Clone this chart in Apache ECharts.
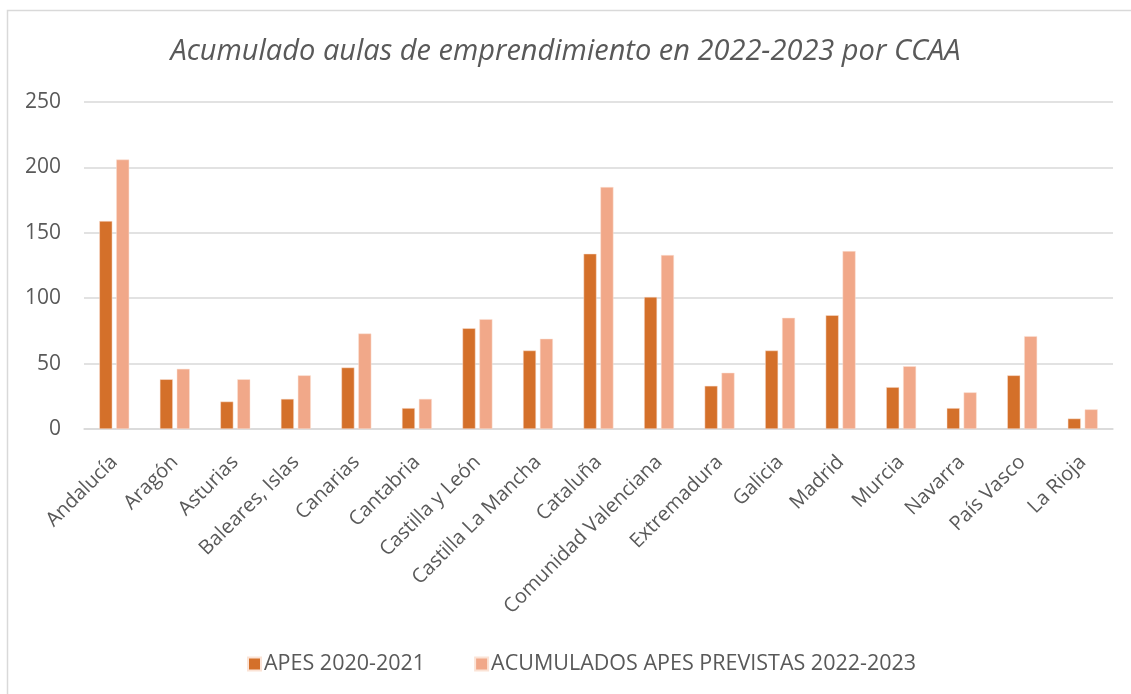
<!DOCTYPE html>
<html><head><meta charset="utf-8">
<script src="https://cdn.jsdelivr.net/npm/echarts@6/dist/echarts.min.js"></script>
<style>html,body{margin:0;padding:0;background:#fff}#c{width:1131px;height:694px}</style>
</head><body><div id="c"></div>
<script>
const categories = ['Andalucía','Aragón','Asturias','Baleares, Islas','Canarias','Cantabria','Castilla y León','Castilla La Mancha','Cataluña','Comunidad Valenciana','Extremadura','Galicia','Madrid','Murcia','Navarra','País Vasco','La Rioja'];
const apes2021 = [159,38,21,23,47,16,77,60,134,101,33,60,87,32,16,41,8];
const previstas2023 = [206,46,38,41,73,23,84,69,185,133,43,85,136,48,28,71,15];
const seriesNames = ['APES 2020-2021','ACUMULADOS APES PREVISTAS 2022-2023'];
const yTicks = [0,50,100,150,200,250];

const font = 'Open Sans';
const chart = echarts.init(document.getElementById('c'));
chart.setOption({
  backgroundColor:'#fff',
  animation:false,
  graphic:[{type:'rect',shape:{x:7.5,y:10.5,width:1140,height:700},style:{fill:'none',stroke:'#d9d9d9',lineWidth:1.5},z:-1}],
  title:{text:'Acumulado aulas de emprendimiento en 2022-2023 por CCAA',left:'center',top:32,
    textStyle:{fontFamily:font,fontStyle:'italic',fontWeight:'normal',fontSize:29,color:'#595959'}},
  legend:{bottom:19,left:247,padding:0,itemWidth:13,itemHeight:13,itemGap:49,icon:'rect',
    textStyle:{fontFamily:font,fontSize:21.5,color:'#595959',padding:[0,0,0,-2]}},
  grid:{left:84,right:18,top:102,bottom:265},
  xAxis:{type:'category',data:categories,
    axisLine:{lineStyle:{color:'#d9d9d9',width:1.5}},axisTick:{show:false},
    axisLabel:{rotate:45,fontFamily:font,fontSize:20,color:'#595959',margin:30,interval:0}},
  yAxis:{type:'value',min:yTicks[0],max:yTicks[yTicks.length-1],interval:50,
    axisLine:{show:false},axisTick:{show:false},
    splitLine:{lineStyle:{color:'#d9d9d9',width:1.5}},
    axisLabel:{fontFamily:font,fontSize:21,color:'#595959',margin:23}},
  series:[
    {name:seriesNames[0],type:'bar',data:apes2021,barWidth:13,barGap:'30%',
      itemStyle:{color:'#d4702a',borderColor:'#fbe3d6',borderWidth:0.5}},
    {name:seriesNames[1],type:'bar',data:previstas2023,barWidth:13,
      itemStyle:{color:'#f1a889',borderColor:'#fbe3d6',borderWidth:0.5}}
  ]
});
</script></body></html>
